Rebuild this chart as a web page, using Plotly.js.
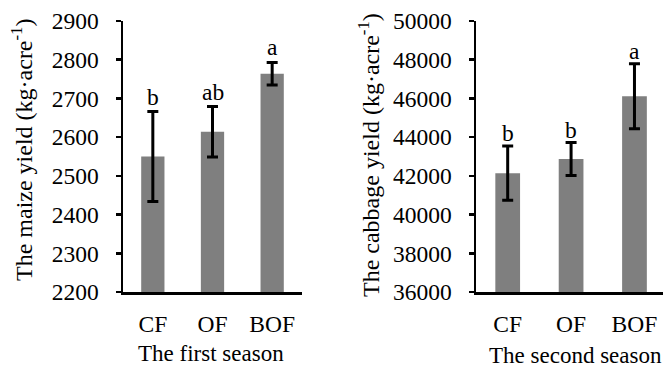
<!DOCTYPE html>
<html>
<head>
<meta charset="utf-8">
<script src="https://cdn.plot.ly/plotly-3.0.1.min.js"></script>
<style>html,body{margin:0;padding:0;background:#fff;}#chart{width:663px;height:370px;}</style>
</head>
<body>
<div id="chart"></div>
<script>
// Data
const categories = ["CF", "OF", "BOF"];
const maizeYield = [2550, 2614, 2764];
const maizeErr = [116, 65, 29];
const maizeLetters = ["b", "ab", "a"];
const cabbageYield = [42140, 42870, 46110];
const cabbageErr = [1400, 850, 1680];
const cabbageLetters = ["b", "b", "a"];
const maizeTicks = [2200, 2300, 2400, 2500, 2600, 2700, 2800, 2900];
const cabbageTicks = [36000, 38000, 40000, 42000, 44000, 46000, 48000, 50000];

const W = 663, H = 370;
const FONT = "Liberation Serif, Times New Roman, serif";
const barColor = "#7f7f7f";

function barTrace(y, err, xa, ya) {
  return {
    type: "bar", x: categories, y: y, xaxis: xa, yaxis: ya,
    width: 0.39,
    marker: {color: barColor, line: {width: 0}},
    error_y: {type: "data", array: err, visible: true, color: "#000", thickness: 3, width: 5.5},
    hoverinfo: "skip", showlegend: false
  };
}

const traces = [
  barTrace(maizeYield, maizeErr, "x", "y"),
  barTrace(cabbageYield, cabbageErr, "x2", "y2")
];

const yDom = [1 - 292 / H, 1 - 21 / H];
const axisCommon = {
  showline: true, linecolor: "#000", linewidth: 2.5, showgrid: false, zeroline: false
};
const xTickFont = {family: FONT, size: 23.5, color: "#000"};
const yTickFont = {family: FONT, size: 23.5, color: "#000"};
const letterFont = {family: FONT, size: 23.5, color: "#000"};

const annotations = [];
categories.forEach((c, i) => {
  annotations.push({x: c, y: maizeYield[i] + maizeErr[i], xref: "x", yref: "y", text: maizeLetters[i],
    showarrow: false, yanchor: "bottom", yshift: 0, font: letterFont});
  annotations.push({x: c, y: cabbageYield[i] + cabbageErr[i], xref: "x2", yref: "y2", text: cabbageLetters[i],
    showarrow: false, yanchor: "bottom", yshift: -2, font: letterFont});
});
annotations.push({xref: "paper", yref: "paper", x: 22 / W, y: 1 - 150 / H, textangle: -90,
  text: "The maize yield (kg·acre<sup>-1</sup>)", showarrow: false, xanchor: "center", yanchor: "middle",
  font: {family: FONT, size: 24, color: "#000"}});
annotations.push({xref: "paper", yref: "paper", x: 369 / W, y: 1 - 155 / H, textangle: -90,
  text: "The cabbage yield (kg·acre<sup>-1</sup>)", showarrow: false, xanchor: "center", yanchor: "middle",
  font: {family: FONT, size: 24, color: "#000"}});
annotations.push({xref: "paper", yref: "paper", x: 211 / W, y: 0, yshift: 2,
  text: "The first season", showarrow: false, xanchor: "center", yanchor: "bottom",
  font: {family: FONT, size: 23, color: "#000"}});
annotations.push({xref: "paper", yref: "paper", x: 487 / W, y: 0, yshift: 0,
  text: "The second season", showarrow: false, xanchor: "left", yanchor: "bottom",
  font: {family: FONT, size: 23, color: "#000"}});

const layout = {
  width: W, height: H,
  margin: {l: 0, r: 0, t: 0, b: 0},
  paper_bgcolor: "#fff", plot_bgcolor: "#fff",
  xaxis: Object.assign({}, axisCommon, {domain: [123 / W, 302 / W], range: [-0.5, 2.5], ticks: "", anchor: "y",
    tickfont: xTickFont, ticklabelstandoff: 9}),
  yaxis: Object.assign({}, axisCommon, {domain: yDom, range: [2200, 2900], tickvals: maizeTicks, tickformat: "d",
    ticks: "outside", ticklen: 5, tickwidth: 2.5, tickcolor: "#000", anchor: "x", ticklabelstandoff: 12,
    tickfont: yTickFont}),
  xaxis2: Object.assign({}, axisCommon, {domain: [476 / W, 1], range: [-0.5, 2.45], ticks: "", anchor: "y2",
    tickfont: xTickFont, ticklabelstandoff: 9}),
  yaxis2: Object.assign({}, axisCommon, {domain: yDom, range: [36000, 50000], tickvals: cabbageTicks, tickformat: "d",
    ticks: "outside", ticklen: 5, tickwidth: 2.5, tickcolor: "#000", anchor: "x2", ticklabelstandoff: 12,
    tickfont: yTickFont}),
  annotations: annotations
};

Plotly.newPlot("chart", traces, layout, {staticPlot: true, displayModeBar: false});
</script>
</body>
</html>
